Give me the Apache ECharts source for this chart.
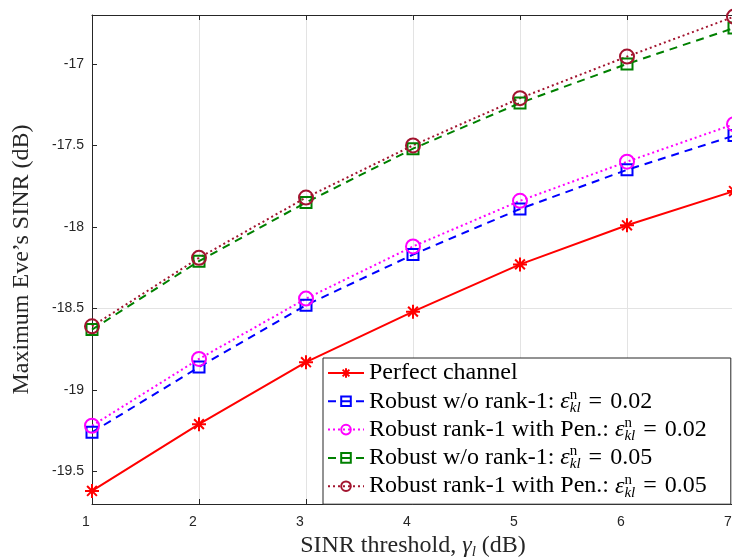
<!DOCTYPE html>
<html>
<head>
<meta charset="utf-8">
<script src="https://cdn.jsdelivr.net/npm/echarts@6/dist/echarts.min.js"></script>
<style>
  html, body { margin: 0; padding: 0; background: #fff; }
  #chart { width: 732px; height: 559px; }
</style>
</head>
<body>
<div id="chart"></div>
<script>
// x: SINR threshold (dB)
const thresholds = [1, 2, 3, 4, 5, 6, 7]
// y: maximum Eve's SINR (dB)
const perfect = [-19.62, -19.21, -18.83, -18.52, -18.23, -17.99, -17.78]
const robust002 = [-19.26, -18.86, -18.48, -18.17, -17.89, -17.65, -17.44]
const rankPen002 = [-19.22, -18.81, -18.44, -18.12, -17.84, -17.60, -17.37]
const robust005 = [-18.63, -18.21, -17.85, -17.52, -17.24, -17.00, -16.78]
const rankPen005 = [-18.61, -18.19, -17.82, -17.50, -17.21, -16.955, -16.71]
const yTicks = [-19.5, -19, -18.5, -18, -17.5, -17]
const seriesNames = [
  'Perfect channel',
  'Robust w/o rank-1: 0.02',
  'Robust rank-1 with Pen.: 0.02',
  'Robust w/o rank-1: 0.05',
  'Robust rank-1 with Pen.: 0.05'
]

const serif = '"Liberation Serif", "DejaVu Serif", serif'
const sans = '"Liberation Sans", Arial, sans-serif'
const axisColor = '#262626'
const gridColor = '#e3e3e3'

const star = 'path://M0,-10L0,10M-10,0L10,0M-7,-7L7,7M-7,7L7,-7'

function line (name, values, color, type, symbol, size) {
  const hollow = symbol !== star
  return {
    name: name,
    type: 'line',
    data: thresholds.map((x, i) => [x, values[i]]),
    symbol: symbol,
    symbolSize: size,
    lineStyle: { color: color, width: 2, type: type },
    itemStyle: {
      color: hollow ? 'rgba(255,255,255,0)' : color,
      borderColor: color,
      borderWidth: 2
    },
    emphasis: { disabled: true }
  }
}

const myChart = echarts.init(document.getElementById('chart'))

const option = {
  animation: false,
  backgroundColor: '#fff',
  grid: { left: 92, top: 15, width: 642, height: 489, outerBoundsMode: 'none', containLabel: false },
  legend: {
    orient: 'vertical',
    left: 323,
    top: 358,
    itemWidth: 36,
    itemHeight: 12,
    itemGap: 0.3,
    padding: [1, 24, 4, 4],
    backgroundColor: '#fff',
    borderColor: axisColor,
    borderWidth: 1,
    selectedMode: false,
    formatter: function (name) {
      const parts = name.split(': ')
      if (parts.length < 2) return '{t|' + name + '}'
      return '{t|' + parts[0] + ': }{e|ε}{n|n}{k|kl}{q|=}{t|' + parts[1] + '}'
    },
    textStyle: {
      lineHeight: 28,
      rich: {
        t: { fontFamily: serif, fontSize: 24, color: '#000', lineHeight: 28 },
        e: { fontFamily: serif, fontSize: 24, fontStyle: 'italic', color: '#000', lineHeight: 28 },
        q: { fontFamily: serif, fontSize: 24, color: '#000', lineHeight: 28, padding: [0, 8, 0, 7] },
        n: { fontFamily: serif, fontSize: 15, color: '#000', verticalAlign: 'top', lineHeight: 15, width: 0 },
        k: { fontFamily: serif, fontSize: 15, fontStyle: 'italic', color: '#000', verticalAlign: 'bottom', lineHeight: 13, padding: [0, 1, 0, 0] }
      }
    }
  },
  xAxis: [
    {
      type: 'value',
      min: 1,
      max: 7,
      interval: 1,
      name: '{t|SINR threshold, }{g|γ}{s|l}{t| (dB)}',
      nameLocation: 'middle',
      nameGap: 23,
      nameTextStyle: {
        rich: {
          t: { fontFamily: serif, fontSize: 24, color: '#262626', lineHeight: 28 },
          g: { fontFamily: serif, fontSize: 24, fontStyle: 'italic', color: '#262626', lineHeight: 28 },
          s: { fontFamily: serif, fontSize: 15, fontStyle: 'italic', color: '#262626', verticalAlign: 'bottom', lineHeight: 12 }
        }
      },
      axisLine: { onZero: false, lineStyle: { color: axisColor, width: 1 } },
      axisTick: { inside: true, length: 5, lineStyle: { color: axisColor } },
      axisLabel: { fontFamily: sans, fontSize: 14, color: axisColor, margin: 11, padding: [0, 12, 0, 0] },
      splitLine: { show: true, lineStyle: { color: gridColor, width: 1 } }
    },
    {
      type: 'value',
      position: 'top',
      min: 1,
      max: 7,
      interval: 1,
      axisLine: { onZero: false, lineStyle: { color: axisColor, width: 1 } },
      axisTick: { inside: true, length: 5, lineStyle: { color: axisColor } },
      axisLabel: { show: false },
      splitLine: { show: false }
    }
  ],
  yAxis: {
    type: 'value',
    min: -19.7,
    max: -16.7,
    interval: 0.1,
    name: 'Maximum Eve’s SINR (dB)',
    nameLocation: 'middle',
    nameGap: 58,
    nameTextStyle: { fontFamily: serif, fontSize: 24, color: '#262626' },
    axisLine: { show: true, onZero: false, lineStyle: { color: axisColor, width: 1 } },
    axisTick: { inside: true, length: 5, customValues: yTicks, lineStyle: { color: axisColor } },
    axisLabel: { fontFamily: sans, fontSize: 14, color: axisColor, margin: 8, customValues: yTicks },
    splitLine: {
      show: true,
      lineStyle: {
        color: ['rgba(0,0,0,0)', 'rgba(0,0,0,0)', gridColor, 'rgba(0,0,0,0)', 'rgba(0,0,0,0)'],
        width: 1
      }
    }
  },
  series: [
    line(seriesNames[0], perfect, '#ff0000', 'solid', star, 14),
    line(seriesNames[1], robust002, '#0000ff', [8, 6], 'rect', 11),
    line(seriesNames[2], rankPen002, '#ff00ff', [2, 3], 'circle', 14),
    line(seriesNames[3], robust005, '#008000', [8, 6], 'rect', 11),
    line(seriesNames[4], rankPen005, '#a2142f', [2, 3], 'circle', 14)
  ]
}
option && myChart.setOption(option)
</script>
</body>
</html>
